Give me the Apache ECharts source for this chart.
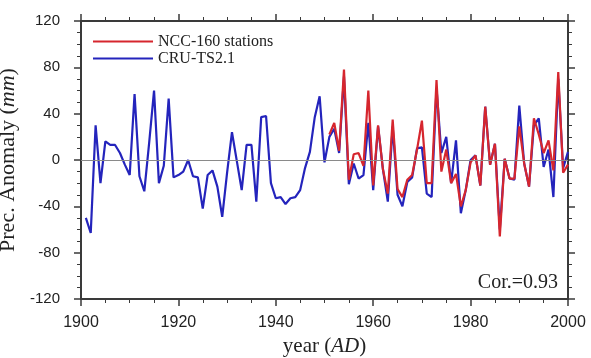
<!DOCTYPE html>
<html>
<head>
<meta charset="utf-8">
<script src="https://cdn.jsdelivr.net/npm/echarts@6/dist/echarts.min.js"></script>
<style>
  html, body { margin: 0; padding: 0; background: #fff; }
  #chart { width: 591px; height: 358px; }
</style>
</head>
<body>
<div id="chart"></div>
<script>
// CRU-TS2.1, 1901-2000
var cruStart = 1901;
var cruValues = [
  -50, -63, 30, -20, 16, 13, 13, 6, -4, -13,
  57, -14, -27, 15, 60, -20, -5, 53, -15, -13,
  -10, 0, -14, -15, -42, -13, -9, -23, -49, -11,
  24, -1, -26, 13, 13, -36, 37, 38, -20, -33,
  -32, -38, -33, -32, -26, -7, 7, 37, 55, -2,
  20, 27, 6, 72, -21, -3, -16, -13, 32, -26,
  29, -8, -36, 29, -30, -40, -19, -15, 10, 11,
  -29, -32, 62, 6, 20, -20, 17, -46, -26, 0,
  4, -22, 46, -4, 14, -60, 1, -16, -17, 47,
  -3, -23, 30, 36, -6, 9, -32, 70, -7, 7
];

// NCC-160 stations, 1951-2000
var nccStart = 1951;
var nccValues = [
  22, 32, 8, 78, -17, 5, 6, -5, 60, -22,
  30, -8, -29, 35, -25, -32, -17, -13, 9, 34,
  -20, -20, 69, -10, 9, -20, -12, -40, -26, -2,
  4, -22, 46, -4, 14, -66, 1, -16, -16, 29,
  -3, -23, 36, 22, 6, 17, -9, 76, -11, -4
];

var xTicks = [1900, 1920, 1940, 1960, 1980, 2000];
var yTicks = [-120, -80, -40, 0, 40, 80, 120];

function pairs(start, vals) {
  return vals.map(function (v, i) { return [start + i, v]; });
}

var serif = '"Liberation Serif", "DejaVu Serif", serif';
var sans = '"Liberation Sans", Arial, sans-serif';
var axisCol = '#3a3a3a';
var blue = '#2424bc';
var red = '#d6262e';

var chart = echarts.init(document.getElementById('chart'));

var xBase = {
  type: 'value',
  min: xTicks[0],
  max: xTicks[xTicks.length - 1],
  interval: 20,
  splitLine: { show: false },
  axisLine: { show: true, onZero: false, lineStyle: { color: axisCol, width: 2 } },
  axisTick: { show: true, inside: false, length: 7, lineStyle: { color: axisCol, width: 1.5 } },
  minorTick: { show: true, splitNumber: 4, length: 4, lineStyle: { color: axisCol, width: 1 } }
};
var yBase = {
  type: 'value',
  min: yTicks[0],
  max: yTicks[yTicks.length - 1],
  interval: 40,
  splitLine: { show: false },
  axisLine: { show: true, onZero: false, lineStyle: { color: axisCol, width: 2 } },
  axisTick: { show: true, inside: false, length: 7, lineStyle: { color: axisCol, width: 1.5 } },
  minorTick: { show: true, splitNumber: 4, length: 4, lineStyle: { color: axisCol, width: 1 } }
};

var option = {
  animation: false,
  backgroundColor: '#fff',
  grid: { left: 81, right: 23, top: 21, bottom: 59, containLabel: false, outerBoundsMode: 'none' },
  legend: {
    orient: 'vertical',
    left: 88,
    top: 28,
    icon: 'rect',
    itemWidth: 60,
    itemHeight: 2,
    itemGap: 0,
    data: ['NCC-160 stations', 'CRU-TS2.1'],
    textStyle: { fontFamily: serif, fontSize: 16, color: '#222', lineHeight: 17 }
  },
  xAxis: [
    Object.assign({}, xBase, {
      position: 'bottom',
      name: 'year ({i|AD})',
      nameLocation: 'middle',
      nameGap: 36,
      nameTextStyle: {
        fontFamily: serif, fontSize: 21, color: '#222',
        rich: { i: { fontFamily: serif, fontSize: 21, fontStyle: 'italic', color: '#222' } }
      },
      axisLabel: {
        fontFamily: sans, fontSize: 16, color: '#222', margin: 16,
        formatter: function (v) { return String(v); }
      }
    }),
    Object.assign({}, xBase, { position: 'top', axisLabel: { show: false } })
  ],
  yAxis: [
    Object.assign({}, yBase, {
      position: 'left',
      name: 'Prec. Anomaly ({i|mm})',
      nameLocation: 'middle',
      nameGap: 38,
      nameTextStyle: {
        fontFamily: serif, fontSize: 22, color: '#222',
        rich: { i: { fontFamily: serif, fontSize: 22, fontStyle: 'italic', color: '#222' } }
      },
      axisLabel: { fontFamily: sans, fontSize: 15, color: '#222', margin: 21 }
    }),
    Object.assign({}, yBase, { position: 'right', axisLabel: { show: false } })
  ],
  graphic: [{
    type: 'text',
    right: 33,
    top: 273,
    style: { text: 'Cor.=0.93', font: '20px ' + serif, fill: '#222' }
  }],
  series: [
    {
      name: 'CRU-TS2.1',
      type: 'line',
      xAxisIndex: 0,
      yAxisIndex: 0,
      data: pairs(cruStart, cruValues),
      symbol: 'none',
      lineStyle: { color: blue, width: 2.2 },
      itemStyle: { color: blue },
      z: 3,
      markLine: {
        silent: true,
        symbol: 'none',
        label: { show: false },
        lineStyle: { color: '#8a8a8a', width: 1, type: 'solid' },
        data: [{ yAxis: 0 }]
      }
    },
    {
      name: 'NCC-160 stations',
      type: 'line',
      xAxisIndex: 0,
      yAxisIndex: 0,
      data: pairs(nccStart, nccValues),
      symbol: 'none',
      lineStyle: { color: red, width: 2.2 },
      itemStyle: { color: red },
      z: 4
    }
  ]
};

chart.setOption(option);
</script>
</body>
</html>
